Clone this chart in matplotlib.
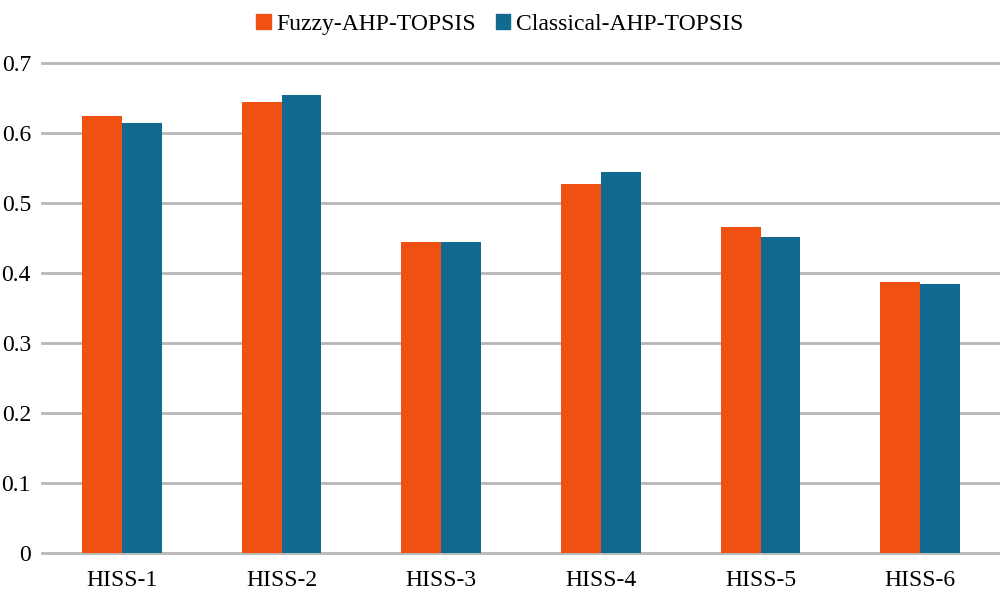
import numpy as np
import matplotlib.pyplot as plt
from matplotlib.patches import Patch

categories = ['HISS-1', 'HISS-2', 'HISS-3', 'HISS-4', 'HISS-5', 'HISS-6']
fuzzy_vals = [0.625, 0.644, 0.444, 0.527, 0.466, 0.388]
classical_vals = [0.614, 0.655, 0.445, 0.545, 0.452, 0.385]
series_names = ['Fuzzy-AHP-TOPSIS', 'Classical-AHP-TOPSIS']
yticks = [0, 0.1, 0.2, 0.3, 0.4, 0.5, 0.6, 0.7]

orange = '#F05012'
blue = '#116A8F'

plt.rcParams['font.family'] = ['Liberation Serif', 'DejaVu Serif']

fig = plt.figure(figsize=(10, 5.97), dpi=100)
ax = fig.add_axes([0.042, 0.0732, 0.958, 0.8208])

x = np.arange(len(categories))
w = 0.25
ax.bar(x - w / 2, fuzzy_vals, w, color=orange, zorder=3)
ax.bar(x + w / 2, classical_vals, w, color=blue, zorder=3)

ax.set_xlim(-0.5, len(categories) - 0.5)
ax.set_ylim(0, 0.7)
for t in yticks:
    ax.axhline(t, color='#B7B7B7', linewidth=2, zorder=1, clip_on=False)

ax.set_yticks(yticks)
ax.set_yticklabels([f'{t:g}' for t in yticks])
ax.set_xticks(x)
ax.set_xticklabels(categories)
ax.tick_params(axis='both', length=0, labelsize=17)
ax.tick_params(axis='x', pad=12)
ax.tick_params(axis='y', pad=8)
for s in ax.spines.values():
    s.set_visible(False)

handles = [Patch(color=orange), Patch(color=blue)]
fig.legend(handles, series_names, loc='upper center', bbox_to_anchor=(0.5, 1.012),
           ncol=2, frameon=False, fontsize=17, handlelength=0.6, handleheight=0.6,
           handletextpad=0.25, columnspacing=0.85)

fig.savefig('out.png', dpi=100)
